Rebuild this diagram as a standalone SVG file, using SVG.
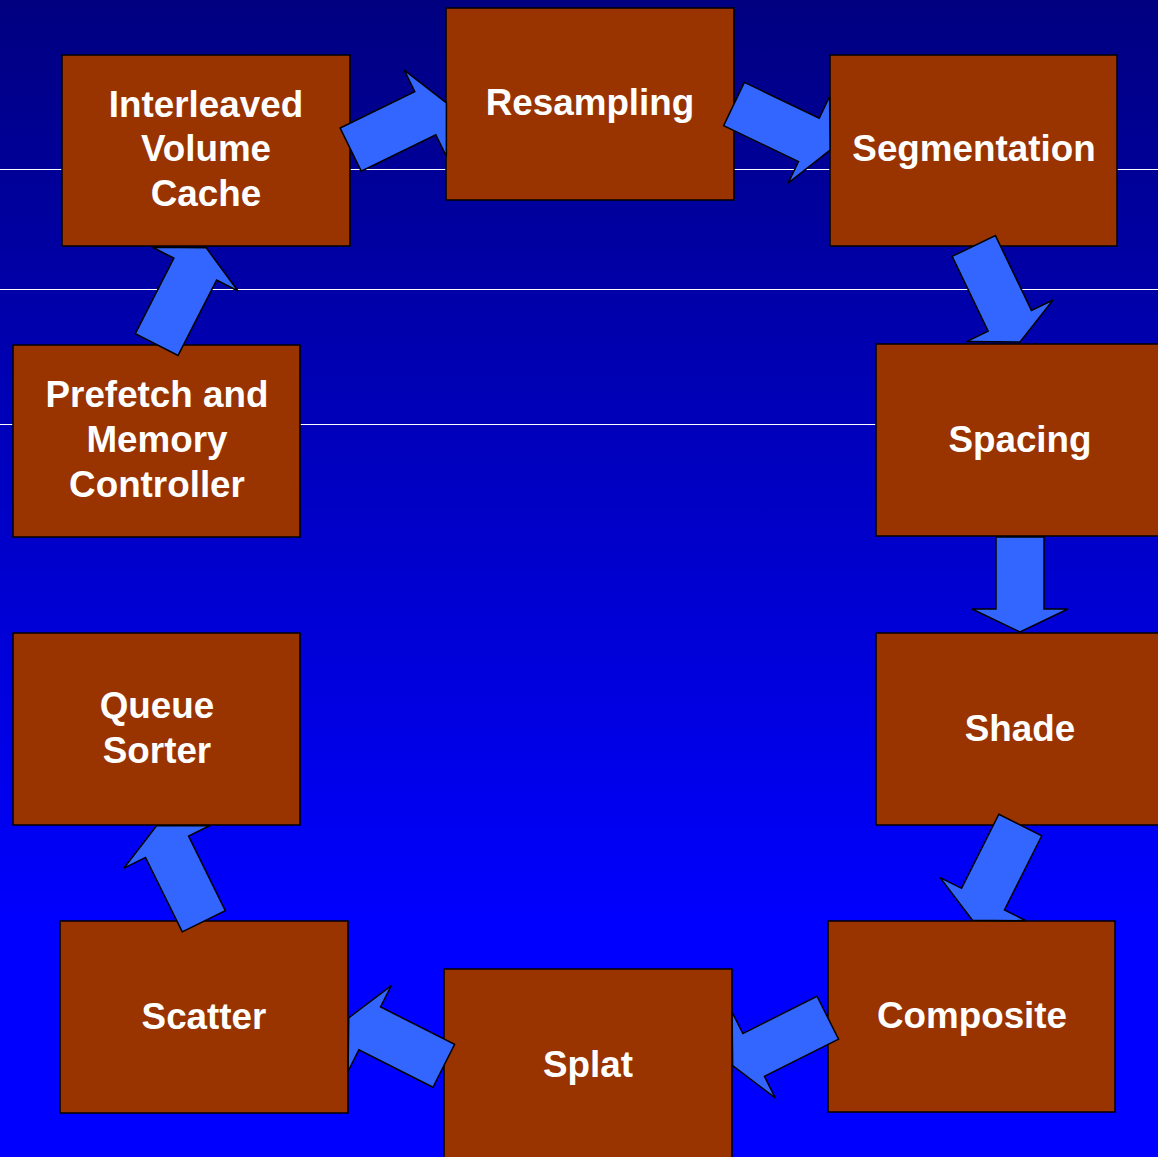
<svg xmlns="http://www.w3.org/2000/svg" xmlns:xlink="http://www.w3.org/1999/xlink" width="1158" height="1157" viewBox="0 0 1158 1157">
  <defs>
    <linearGradient id="bg" x1="0" y1="0" x2="0" y2="1">
      <stop offset="0" stop-color="#000080"/>
      <stop offset="0.8" stop-color="#0000FF"/>
      <stop offset="1" stop-color="#0000FF"/>
    </linearGradient>
    <!-- block arrow pointing along +x, tail centred on the origin -->
    <path id="arrow" d="M0,-24 H83 V-48 L106.5,0 L83,48 V24 H0 Z"/>
  </defs>
  <style>
    .box { fill: #993300; stroke: #000; stroke-width: 1.5; }
    .lbl { fill: #fff; font-family: "Liberation Sans", Arial, sans-serif; font-weight: bold; font-size: 36.8px; text-anchor: middle; }
    .arr { fill: #3366FF; stroke: #000; stroke-width: 1.5; stroke-linejoin: miter; }
    .rule { stroke: #fff; stroke-width: 1.2; }
  </style>

  <rect width="1158" height="1157" fill="url(#bg)"/>
  <g id="rules">
    <line class="rule" x1="0" y1="169.5" x2="1158" y2="169.5"/>
    <line class="rule" x1="0" y1="289.5" x2="1158" y2="289.5"/>
    <line class="rule" x1="0" y1="424.5" x2="1158" y2="424.5"/>
  </g>

  <g id="node-interleaved">
    <rect class="box" x="62" y="55" width="288" height="191"/>
    <text class="lbl" x="206" y="117">Interleaved</text>
    <text class="lbl" x="206" y="161">Volume</text>
    <text class="lbl" x="206" y="206">Cache</text>
  </g>
  <g id="node-resampling">
    <rect class="box" x="446" y="8" width="288" height="192"/>
    <text class="lbl" x="590" y="115">Resampling</text>
  </g>
  <g id="node-segmentation">
    <rect class="box" x="830" y="55" width="287" height="191"/>
    <text class="lbl" x="974" y="161">Segmentation</text>
  </g>
  <g id="node-spacing">
    <rect class="box" x="876" y="344" width="288" height="192"/>
    <text class="lbl" x="1020" y="452">Spacing</text>
  </g>
  <g id="node-shade">
    <rect class="box" x="876" y="633" width="288" height="192"/>
    <text class="lbl" x="1020" y="741">Shade</text>
  </g>
  <g id="node-composite">
    <rect class="box" x="828" y="921" width="287" height="191"/>
    <text class="lbl" x="972" y="1028">Composite</text>
  </g>
  <g id="node-splat">
    <rect class="box" x="444" y="969" width="288" height="192"/>
    <text class="lbl" x="588" y="1077">Splat</text>
  </g>
  <g id="node-scatter">
    <rect class="box" x="60" y="921" width="288" height="192"/>
    <text class="lbl" x="204" y="1029">Scatter</text>
  </g>
  <g id="node-queue-sorter">
    <rect class="box" x="13" y="633" width="287" height="192"/>
    <text class="lbl" x="157" y="718">Queue</text>
    <text class="lbl" x="157" y="763">Sorter</text>
  </g>
  <g id="node-prefetch">
    <rect class="box" x="13" y="345" width="287" height="192"/>
    <text class="lbl" x="157" y="407">Prefetch and</text>
    <text class="lbl" x="157" y="452">Memory</text>
    <text class="lbl" x="157" y="497">Controller</text>
  </g>

  <g id="connectors">
    <use class="arr" xlink:href="#arrow" transform="translate(350.7,149.6) rotate(-26)"/>
    <use class="arr" xlink:href="#arrow" transform="translate(734,104) rotate(25.6)"/>
    <use class="arr" xlink:href="#arrow" transform="translate(973.8,246) rotate(64.3)"/>
    <path class="arr" d="M996,537 H1044 V609 H1068 L1020,632 L972,609 H996 Z"/>
    <use class="arr" xlink:href="#arrow" transform="translate(1020.3,825) rotate(116.7)"/>
    <use class="arr" xlink:href="#arrow" transform="translate(827.8,1017.7) rotate(153.3)"/>
    <use class="arr" xlink:href="#arrow" transform="translate(443.8,1065.8) rotate(206.8)"/>
    <use class="arr" xlink:href="#arrow" transform="translate(203.8,921.2) rotate(-116.3)"/>
    <use class="arr" xlink:href="#arrow" transform="translate(156.7,344.5) rotate(-62.9) scale(1.02,1)"/>
  </g>
</svg>
